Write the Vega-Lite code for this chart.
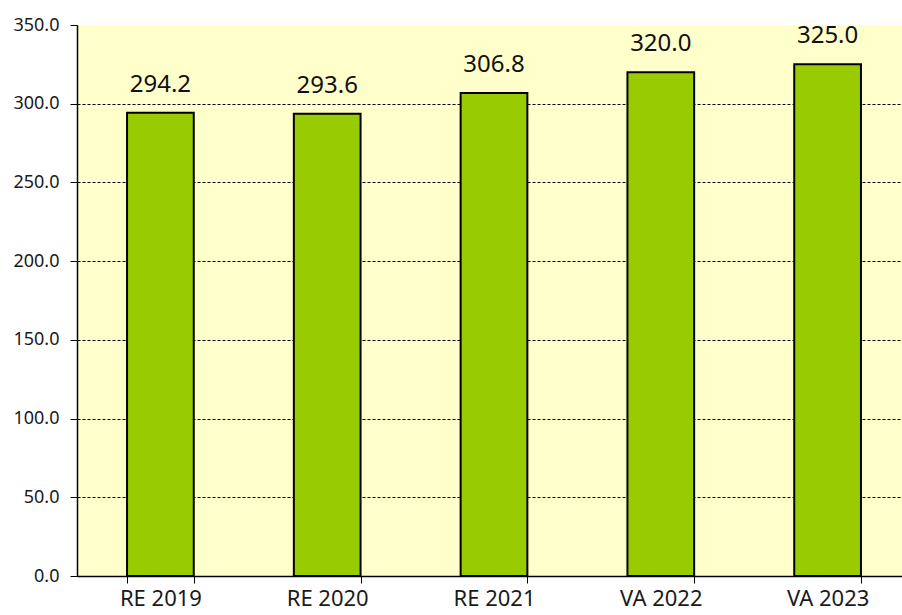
{
  "$schema": "https://vega.github.io/schema/vega-lite/v6.json",
  "autosize": {"type": "none"},
  "padding": {"left": 77, "top": 25, "right": 0, "bottom": 39},
  "width": 834,
  "height": 551,
  "background": "#ffffff",
  "config": {
    "view": {"fill": "#FFFFCC", "stroke": null},
    "font": "Noto Sans"
  },
  "data": {
    "values": [
      {"period": "RE 2019", "value": 294.2},
      {"period": "RE 2020", "value": 293.6},
      {"period": "RE 2021", "value": 306.8},
      {"period": "VA 2022", "value": 320.0},
      {"period": "VA 2023", "value": 325.0}
    ]
  },
  "encoding": {
    "x": {
      "field": "period",
      "type": "nominal",
      "sort": null,
      "scale": {"paddingInner": 0.6, "paddingOuter": 0.3},
      "axis": {
        "title": null,
        "labelAngle": 0,
        "labelFontSize": 22,
        "labelColor": "#1a1a1a",
        "labelPadding": 5,
        "domainColor": "#000000",
        "domainWidth": 1.5,
        "tickColor": "#000000",
        "tickSize": 7,
        "tickBand": "extent",
        "grid": false
      }
    },
    "y": {
      "field": "value",
      "type": "quantitative",
      "scale": {"domain": [0, 350], "nice": false},
      "axis": {
        "title": null,
        "values": [0, 50, 100, 150, 200, 250, 300, 350],
        "format": ".1f",
        "labelFontSize": 18,
        "labelColor": "#1a1a1a",
        "labelPadding": 11,
        "domainColor": "#000000",
        "domainWidth": 1.5,
        "tickColor": "#000000",
        "tickSize": 7,
        "grid": true,
        "gridColor": "#000000",
        "gridDash": [3, 2],
        "gridWidth": 1,
        "gridOpacity": {"condition": {"test": "datum.value == 350 || datum.value == 0", "value": 0}, "value": 1}
      }
    }
  },
  "layer": [
    {
      "mark": {"type": "bar", "color": "#99CC00", "stroke": "#000000", "strokeWidth": 2}
    },
    {
      "mark": {"type": "text", "baseline": "bottom", "dy": -16, "fontSize": 24, "color": "#111111"},
      "encoding": {
        "text": {"field": "value", "type": "quantitative", "format": ".1f"}
      }
    }
  ]
}
